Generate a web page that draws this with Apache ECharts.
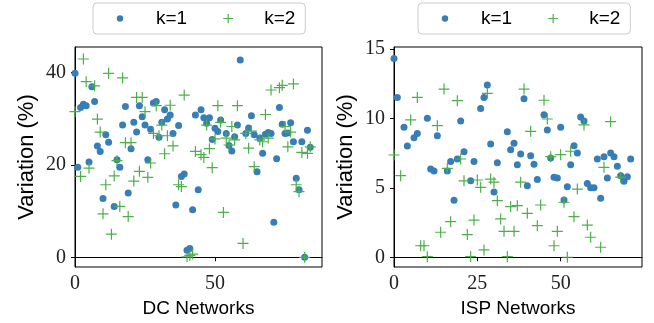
<!DOCTYPE html>
<html>
<head>
<meta charset="utf-8">
<script src="https://cdn.jsdelivr.net/npm/echarts@6/dist/echarts.min.js"></script>
<style>
html, body { margin: 0; padding: 0; background: #fff; }
#chart { width: 654px; height: 323px; }
</style>
</head>
<body>
<div id="chart"></div>
<script>
// DC networks, variation per network index (null = not visible)
var dcK1 = [39.8, 19.5, 32.4, 33.1, 32.8, 20.6, 36.9, 33.7, 24.1, 22.9,
	12.7, 26.5, 24.9, null, 11.0, 21.1, 19.5, 28.6, 32.6, 13.9,
	23.5, 29.2, 27.1, 32.8, 30.4, 28.6, 21.1, 27.7, 33.4, 33.7,
	26.0, 29.2, 31.9, 29.9, 30.8, 26.8, 11.3, 28.5, 17.5, 18.0,
	1.5, 1.9, 10.3, 30.8, 14.6, 31.9, 30.2, 29.0, 30.2, 25.5,
	27.9, 27.2, 29.7, null, 26.8, 24.2, 23.0, 26.1, 28.6, 42.7,
	null, 26.8, 28.0, 30.6, 26.5, 18.5, 25.8, 22.5, 26.6, 27.0,
	26.8, 7.6, 21.3, 32.4, 28.8, 26.8, 26.9, 29.1, 25.0, 17.1,
	14.6, 25.0, 0, 27.5, 23.8];
var dcK2 = [31.5, null, 17.5, 42.9, 38.0, 19.3, null, 37.1, 29.9, 27.1,
	9.4, 15.7, 39.8, 5.0, 17.6, 20.9, 11.0, 38.8, 24.8, 8.8,
	24.8, 16.5, 34.6, 18.6, 34.6, 31.5, 17.3, 20.4, 26.8, 32.8,
	26.3, 28.6, 22.4, 26.3, 32.9, 24.1, null, 15.7, 15.3, 35.1,
	0.1, 0.4, 0.7, 22.9, null, 22.2, 21.6, 28.6, 23.5, 19.4,
	25.6, 32.8, 29.2, 9.7, 25.8, 24.3, 28.3, 25.4, 32.8, null,
	3.0, 26.8, 23.6, 27.3, 19.6, null, 25.4, 25.0, 30.9, 25.8,
	36.2, null, null, 36.7, 37.2, 28.3, 23.9, 27.1, 37.5, 15.7,
	14.2, 22.7, 0, 22.5, 23.9];

// ISP networks
var ispK1 = [14.3, 11.5, null, 9.35, 8.0, null, 8.6, 8.9, null, null,
	10.0, 6.35, 6.2, 8.75, null, null, 6.2, 6.9, 4.1, 7.07,
	9.8, 7.6, null, 5.5, 6.9, null, 10.7, 11.5, 12.4, 8.15,
	4.7, 6.8, null, null, 9.04, 7.74, 8.2, 6.66, 7.43, 11.4,
	5.15, 7.3, 6.7, 5.6, null, 10.26, 9.16, 7.14, 5.75, 5.7,
	9.35, 4.12, 5.08, 6.66, 8.03, 7.5, 10.1, 9.8, 5.3, 5.0,
	5.0, 7.07, 4.24, 7.24, 5.7, 7.5, 7.24, 6.55, 5.87, 5.47,
	5.8, 7.07];
var ispK2 = [7.36, null, 5.87, null, null, 9.88, null, 11.5, 0.83, 0.83,
	0.04, null, null, 9.47, 1.8, 12.1, 6.4, 2.56, null, 11.27,
	7.07, 5.5, 1.63, 0.04, 2.68, 5.56, 5.03, 0.53, 11.8, 5.63,
	5.4, 4.07, 2.76, 1.87, 0.04, 3.64, 1.87, 3.71, 5.4, 12.1,
	3.16, 9.06, null, 2.27, 3.76, 11.3, 9.95, 7.24, 0.83, 1.87,
	7.38, 3.96, 0, 7.63, 2.92, 4.91, null, 9.52, 2.32, 1.44,
	null, null, 0.72, 6.47, null, 9.76, null, null, 5.76];

var dcXTicks = [0, 50];
var dcYTicks = [0, 20, 40];
var ispXTicks = [0, 25, 50];
var ispYTicks = [0, 5, 10, 15];
var seriesNames = ['k=1', 'k=2'];

var blue = '#377eb8';
var green = '#4daf4a';
var plusPath = 'path://M5,0L5,10M0,5L10,5';
var dotIcon = 'image://data:image/svg+xml;utf8,' + encodeURIComponent(
	'<svg xmlns="http://www.w3.org/2000/svg" width="10" height="10"><circle cx="5" cy="5" r="3.2" fill="' + blue + '"/></svg>');
var plusIcon = 'image://data:image/svg+xml;utf8,' + encodeURIComponent(
	'<svg xmlns="http://www.w3.org/2000/svg" width="10" height="10"><path d="M5,0V10M0,5H10" stroke="' + green + '" stroke-width="1.2"/></svg>');

function pairs(arr) {
	var out = [];
	for (var i = 0; i < arr.length; i++) {
		if (arr[i] !== null) out.push([i, arr[i]]);
	}
	return out;
}

var chart = echarts.init(document.getElementById('chart'), null, {renderer: 'canvas'});

var serifFont = 'Liberation Serif';
var sansFont = 'Liberation Sans';

function xAxis(idx, max, ticks, name) {
	return {
		type: 'value', gridIndex: idx, min: 0, max: max,
		name: name, nameLocation: 'middle', nameGap: 30,
		nameTextStyle: {fontFamily: sansFont, fontSize: 19, color: '#000'},
		axisLine: {show: true, lineStyle: {color: '#000', width: 1}},
		axisTick: {show: true, length: 4, customValues: ticks, lineStyle: {color: '#000'}},
		axisLabel: {customValues: ticks, fontFamily: serifFont, fontSize: 20, color: '#222', margin: 7},
		splitLine: {show: false}
	};
}
function yAxis(idx, min, max, ticks) {
	return {
		type: 'value', gridIndex: idx, min: min, max: max,
		name: 'Variation (%)', nameLocation: 'middle', nameGap: 37, nameRotate: 90,
		nameTextStyle: {fontFamily: sansFont, fontSize: 22, color: '#000'},
		axisLine: {show: true, lineStyle: {color: '#000', width: 1}},
		axisTick: {show: true, length: 4, customValues: ticks, lineStyle: {color: '#000'}},
		axisLabel: {customValues: ticks, fontFamily: serifFont, fontSize: 20, color: '#222', margin: 9},
		splitLine: {show: false}
	};
}
function legend(left) {
	return {
		left: left, top: 3,
		orient: 'horizontal',
		itemWidth: 10, itemHeight: 10, itemGap: 36,
		padding: [6, 10, 6, 22],
		borderColor: '#cccccc', borderWidth: 1, borderRadius: 4,
		textStyle: {fontFamily: sansFont, fontSize: 19, color: '#000', padding: [0, 0, 0, 26]},
		data: [{name: seriesNames[0], icon: dotIcon}, {name: seriesNames[1], icon: plusIcon}],
		selectedMode: false
	};
}
function dots(idx, arr) {
	return {
		name: seriesNames[0], type: 'scatter', xAxisIndex: idx, yAxisIndex: idx,
		symbol: 'circle', symbolSize: 7,
		itemStyle: {color: blue, opacity: 1},
		data: pairs(arr), z: 2
	};
}
function pluses(idx, arr) {
	return {
		name: seriesNames[1], type: 'scatter', xAxisIndex: idx, yAxisIndex: idx,
		symbol: plusPath, symbolSize: 11,
		itemStyle: {color: green, borderColor: green, borderWidth: 1.2, opacity: 1},
		data: pairs(arr), z: 3
	};
}

option = {
	animation: false,
	backgroundColor: '#fff',
	legend: [legend(93), legend(418)],
	grid: [
		{left: 75, top: 47, width: 247, height: 220, show: true, borderColor: '#000', borderWidth: 1, backgroundColor: 'transparent'},
		{left: 394, top: 47, width: 248, height: 220, show: true, borderColor: '#000', borderWidth: 1, backgroundColor: 'transparent'}
	],
	xAxis: [xAxis(0, 88.2, dcXTicks, 'DC Networks'), xAxis(1, 74.4, ispXTicks, 'ISP Networks')],
	yAxis: [yAxis(0, -2.1, 45.5, dcYTicks), yAxis(1, -0.7, 15.13, ispYTicks)],
	series: [dots(0, dcK1), pluses(0, dcK2), dots(1, ispK1), pluses(1, ispK2)]
};

chart.setOption(option);
</script>
</body>
</html>
